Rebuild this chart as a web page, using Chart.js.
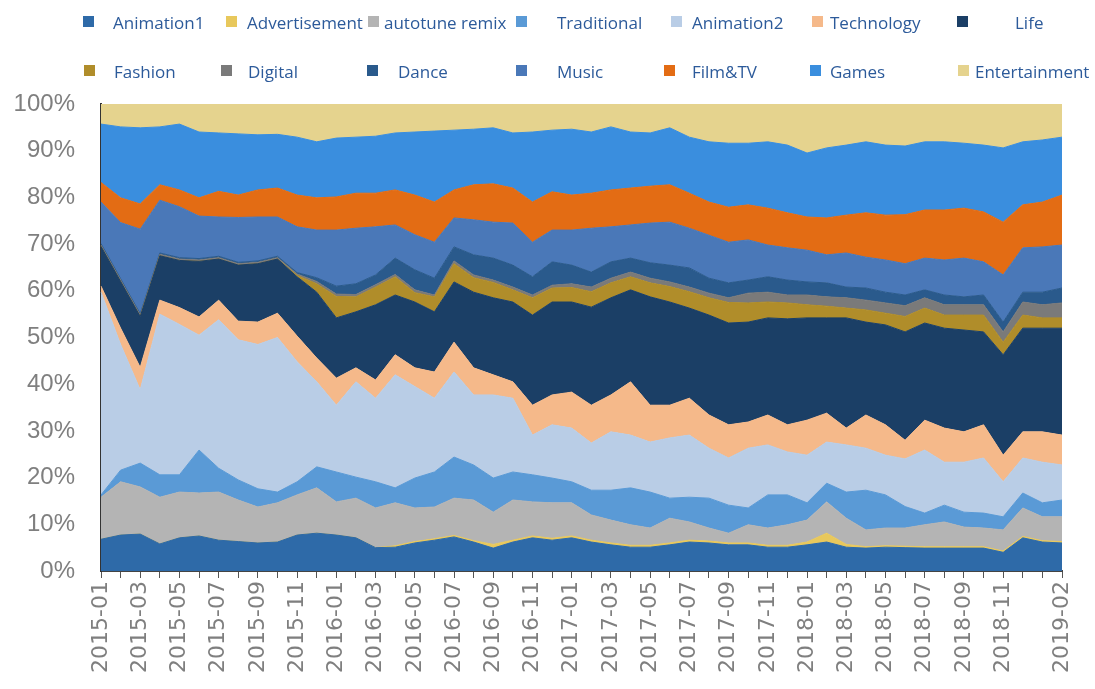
<!DOCTYPE html>
<html lang="en">
<head>
    <meta charset="UTF-8">
    <meta name="viewport" content="width=device-width, initial-scale=1.0">
    <title>Monthly Category Share</title>
    <script src="https://cdn.jsdelivr.net/npm/chart.js"></script>
    <style>
        body {
            margin: 0;
            background: #ffffff;
        }

        .chart-box {
            position: relative;
            width: 1095px;
            height: 689px;
        }

        /* legend sits over the top of the canvas */
        .legend {
            position: absolute;
            left: 0;
            top: 0;
            width: 1095px;
            height: 96px;
        }

        .legend-box {
            position: absolute;
            width: 11px;
            height: 11px;
        }

        .legend-text {
            position: absolute;
            font-family: "Open Sans", sans-serif;
            font-size: 17px;
            line-height: 22px;
            color: #2c5a9a;
            white-space: nowrap;
        }
    </style>
</head>
<body>
    <div class="chart-box">
        <canvas id="shareChart"></canvas>
        <div class="legend" id="legend"></div>
    </div>
    <script>
        // months on the x axis
        const months = [
            '2015-01', '2015-02', '2015-03', '2015-04', '2015-05', '2015-06', '2015-07', '2015-08', '2015-09', '2015-10', '2015-11', '2015-12',
            '2016-01', '2016-02', '2016-03', '2016-04', '2016-05', '2016-06', '2016-07', '2016-08', '2016-09', '2016-10', '2016-11', '2016-12',
            '2017-01', '2017-02', '2017-03', '2017-04', '2017-05', '2017-06', '2017-07', '2017-08', '2017-09', '2017-10', '2017-11', '2017-12',
            '2018-01', '2018-02', '2018-03', '2018-04', '2018-05', '2018-06', '2018-07', '2018-08', '2018-09', '2018-10', '2018-11', '2018-12',
            '2019-01', '2019-02'
        ];

        // only these months get a label
        const shownTicks = [
            '2015-01', '2015-03', '2015-05', '2015-07', '2015-09', '2015-11',
            '2016-01', '2016-03', '2016-05', '2016-07', '2016-09', '2016-11',
            '2017-01', '2017-03', '2017-05', '2017-07', '2017-09', '2017-11',
            '2018-01', '2018-03', '2018-05', '2018-07', '2018-09', '2018-11',
            '2019-02'
        ];

        const yTicks = [0, 10, 20, 30, 40, 50, 60, 70, 80, 90, 100];

        // share of each category (%), bottom of the stack first
        const animation1 = [6.8, 7.7, 7.9, 5.8, 7.1, 7.5, 6.6, 6.3, 6.0, 6.2, 7.7, 8.1, 7.7, 7.1, 5.0, 5.1, 6.0, 6.6, 7.3, 6.2, 4.9, 6.2, 7.1, 6.6, 7.1, 6.2, 5.6, 5.1, 5.1, 5.6, 6.2, 6.0, 5.6, 5.6, 5.1, 5.1, 5.6, 6.2, 5.1, 4.9, 5.1, 5.0, 4.9, 4.9, 4.9, 4.9, 4.0, 7.1, 6.2, 6.0];
        const advertisement = [0, 0, 0, 0, 0, 0, 0, 0, 0, 0, 0, 0, 0, 0, 0, 0.3, 0.3, 0.3, 0.3, 0.3, 0.8, 0.4, 0.4, 0.4, 0.4, 0.4, 0.4, 0.4, 0.4, 0.4, 0.4, 0.4, 0.4, 0.4, 0.4, 0.4, 0.6, 1.9, 0.6, 0.3, 0.3, 0.3, 0.3, 0.3, 0.3, 0.3, 0.3, 0.3, 0.3, 0.3];
        const autotuneRemix = [9.0, 11.4, 10.1, 10.0, 9.8, 9.2, 10.3, 8.9, 7.7, 8.4, 8.6, 9.7, 7.1, 8.5, 8.5, 9.2, 7.2, 6.8, 8.0, 8.7, 6.9, 8.6, 7.3, 7.6, 7.1, 5.4, 4.9, 4.4, 3.7, 5.3, 3.9, 2.8, 2.1, 3.9, 3.7, 4.4, 4.7, 6.7, 5.6, 3.6, 3.8, 3.9, 4.7, 5.3, 4.2, 4.0, 4.5, 6.1, 5.1, 5.3];
        const traditional = [0.5, 2.5, 5.1, 4.8, 3.7, 9.2, 5.1, 4.3, 3.9, 2.3, 2.8, 4.5, 6.4, 4.5, 5.6, 3.2, 6.4, 7.5, 8.8, 7.5, 7.3, 6.0, 5.8, 5.3, 4.5, 5.3, 6.4, 7.9, 7.7, 4.3, 5.3, 6.4, 6.0, 3.6, 7.1, 6.4, 3.7, 4.0, 5.6, 8.5, 7.1, 4.6, 2.5, 3.6, 3.2, 3.2, 2.8, 3.2, 3.0, 3.6];
        const animation2 = [43.4, 26.9, 15.7, 34.4, 32.2, 24.6, 31.8, 30.0, 30.9, 33.1, 25.7, 18.2, 14.3, 20.4, 17.9, 24.2, 19.6, 15.8, 18.2, 15.0, 17.8, 15.8, 8.5, 11.4, 11.5, 10.1, 12.5, 11.3, 10.7, 12.9, 13.3, 10.7, 10.1, 12.8, 10.7, 9.2, 10.2, 8.8, 10.1, 9.0, 8.5, 10.2, 13.5, 9.2, 10.7, 11.8, 7.5, 7.5, 8.7, 7.5];
        const technology = [1.3, 3.5, 4.8, 3.0, 3.6, 3.9, 4.2, 4.0, 4.8, 5.2, 5.5, 5.1, 5.8, 3.0, 3.9, 4.3, 4.0, 5.6, 6.4, 5.8, 4.3, 3.5, 6.4, 6.4, 7.7, 8.1, 7.9, 11.4, 7.9, 7.0, 7.9, 7.1, 7.1, 5.6, 6.4, 5.8, 7.5, 6.2, 3.6, 7.1, 6.5, 4.0, 6.4, 7.3, 6.5, 7.1, 5.7, 5.6, 6.5, 6.4];
        const life = [8.5, 10.0, 10.9, 9.5, 10.1, 11.9, 8.8, 12.0, 12.5, 11.6, 12.7, 14.1, 12.9, 12.0, 16.1, 12.8, 14.1, 12.9, 12.9, 16.2, 16.5, 17.1, 19.3, 19.9, 19.3, 21.0, 20.8, 19.7, 23.2, 22.1, 19.3, 21.4, 21.8, 21.4, 20.8, 22.7, 21.9, 20.4, 23.6, 19.9, 21.4, 23.2, 20.8, 21.4, 21.8, 19.9, 21.5, 22.2, 22.2, 22.9];
        const fashion = [0, 0, 0, 0, 0, 0, 0, 0, 0, 0, 0.3, 1.8, 4.6, 3.2, 3.8, 3.9, 2.0, 3.2, 3.9, 3.1, 3.3, 2.6, 3.7, 3.0, 3.1, 3.3, 3.2, 2.8, 3.0, 3.3, 3.5, 3.7, 4.4, 4.1, 3.4, 3.4, 2.8, 2.5, 2.1, 2.6, 2.5, 3.3, 3.2, 2.8, 3.2, 3.6, 2.7, 2.8, 2.2, 2.2];
        const digital = [0.3, 0.3, 0.3, 0.3, 0.3, 0.3, 0.3, 0.3, 0.3, 0.3, 0.3, 0.5, 0.5, 0.5, 0.5, 0.5, 0.6, 0.4, 0.6, 0.6, 0.5, 0.6, 0.6, 0.6, 0.8, 1.0, 1.0, 1.0, 1.0, 1.0, 1.0, 1.0, 1.0, 2.1, 2.1, 1.7, 2.1, 2.0, 2.2, 2.1, 2.2, 2.3, 2.2, 2.2, 2.2, 2.2, 2.2, 2.8, 2.8, 3.2];
        const dance = [0.3, 0.3, 0.3, 0.3, 0.3, 0.3, 0.3, 0.3, 0.3, 0.3, 0.3, 0.8, 1.7, 2.3, 2.1, 3.5, 4.3, 3.6, 3.0, 4.3, 4.7, 4.7, 3.9, 5.0, 4.0, 3.2, 3.5, 3.0, 3.3, 3.6, 4.1, 3.2, 3.2, 2.8, 3.3, 3.2, 2.8, 3.0, 2.3, 2.6, 2.3, 2.3, 1.7, 2.1, 1.7, 2.1, 2.1, 2.1, 2.7, 3.2];
        const music = [8.9, 12.0, 18.1, 11.3, 10.9, 9.1, 8.4, 9.6, 9.4, 8.4, 9.8, 10.2, 12.0, 11.9, 10.3, 7.1, 7.5, 7.7, 6.2, 7.5, 7.7, 9.0, 7.4, 6.8, 7.5, 9.4, 7.5, 7.1, 8.5, 9.2, 8.5, 9.2, 8.7, 8.6, 6.8, 6.9, 6.8, 6.0, 7.3, 6.6, 6.9, 6.7, 6.8, 7.5, 8.3, 7.1, 10.1, 9.5, 9.7, 9.2];
        const filmTV = [4.2, 5.3, 5.4, 3.3, 3.6, 3.9, 5.5, 4.8, 5.8, 6.2, 6.8, 6.9, 7.1, 7.5, 7.2, 7.5, 8.5, 8.6, 6.0, 7.5, 8.2, 7.5, 8.6, 8.2, 7.5, 7.5, 7.9, 7.9, 7.9, 8.0, 7.5, 7.1, 7.5, 7.5, 7.9, 7.5, 7.1, 7.9, 8.1, 9.5, 9.6, 10.5, 10.3, 10.7, 10.7, 10.7, 11.3, 9.2, 9.6, 10.7];
        const games = [12.5, 15.2, 16.3, 12.4, 14.1, 14.1, 12.5, 13.1, 11.8, 11.5, 12.4, 12.0, 12.6, 12.0, 12.2, 12.2, 13.5, 15.2, 12.8, 11.9, 12.0, 11.8, 15.0, 13.2, 14.1, 13.1, 13.5, 12.0, 11.4, 12.2, 12.0, 12.9, 13.7, 13.2, 14.2, 14.5, 13.7, 15.0, 15.0, 15.2, 15.0, 14.7, 14.6, 14.6, 13.9, 14.3, 15.9, 13.5, 13.3, 12.4];
        const entertainment = [4.3, 4.9, 5.1, 4.9, 4.3, 6.0, 6.2, 6.4, 6.6, 6.5, 7.1, 8.1, 7.3, 7.1, 6.9, 6.2, 6.0, 5.8, 5.6, 5.4, 5.1, 6.2, 6.0, 5.6, 5.4, 6.0, 4.9, 6.0, 6.2, 5.1, 7.1, 8.1, 8.4, 8.4, 8.1, 8.8, 10.5, 9.4, 8.8, 8.1, 8.8, 9.0, 8.1, 8.1, 8.4, 8.8, 9.4, 8.1, 7.7, 7.1];

        const seriesNames = ['Animation1', 'Advertisement', 'autotune remix', 'Traditional', 'Animation2', 'Technology', 'Life',
                             'Fashion', 'Digital', 'Dance', 'Music', 'Film&TV', 'Games', 'Entertainment'];
        const seriesValues = [animation1, advertisement, autotuneRemix, traditional, animation2, technology, life,
                              fashion, digital, dance, music, filmTV, games, entertainment];
        const seriesColors = ['#2e6aa8', '#e8c85c', '#b4b4b4', '#5a9ad6', '#b9cde6', '#f5b98a', '#1b3f66',
                              '#b08d2a', '#7a7a7a', '#2a5a8c', '#4a78b8', '#e36c14', '#3a8ede', '#e5d38e'];

        // legend layout (two rows of seven)
        const legendMarkX = [83, 226, 368, 516, 671, 812, 957, 84, 221, 367, 516, 664, 810, 958];
        const legendTextX = [113, 247, 384, 557, 692, 830, 1015, 114, 248, 398, 557, 692, 830, 975];
        const legendRowY = [22, 71];

        const legend = document.getElementById('legend');
        seriesNames.forEach((name, i) => {
            const rowY = legendRowY[Math.floor(i / 7)];
            const box = document.createElement('span');
            box.className = 'legend-box';
            box.style.left = legendMarkX[i] + 'px';
            box.style.top = (rowY - 6) + 'px';
            box.style.backgroundColor = seriesColors[i];
            const text = document.createElement('span');
            text.className = 'legend-text';
            text.style.left = legendTextX[i] + 'px';
            text.style.top = (rowY - 10) + 'px';
            text.textContent = name;
            legend.appendChild(box);
            legend.appendChild(text);
        });

        const ctx = document.getElementById('shareChart').getContext('2d');
        new Chart(ctx, {
            type: 'line',
            data: {
                labels: months,
                datasets: seriesNames.map((name, i) => ({
                    label: name,
                    data: seriesValues[i],
                    backgroundColor: seriesColors[i],
                    borderColor: seriesColors[i],
                    borderWidth: 1,
                    pointRadius: 0,
                    tension: 0,
                    fill: i === 0 ? 'origin' : '-1'
                }))
            },
            options: {
                responsive: true,
                maintainAspectRatio: false,
                animation: false,
                devicePixelRatio: 1,
                layout: {
                    padding: { top: 104, right: 33, bottom: 0, left: 0 }
                },
                plugins: {
                    legend: { display: false },
                    tooltip: { enabled: false }
                },
                scales: {
                    x: {
                        grid: {
                            display: true,
                            drawOnChartArea: false,
                            drawTicks: true,
                            tickLength: 7,
                            color: '#555555'
                        },
                        border: { display: true, color: '#444444', width: 2 },
                        ticks: {
                            autoSkip: false,
                            minRotation: 90,
                            maxRotation: 90,
                            padding: 3,
                            color: '#7f7f7f',
                            font: { family: 'DejaVu Sans', size: 22 },
                            callback: function (value, index) {
                                const m = months[index];
                                return shownTicks.includes(m) ? m : '';
                            }
                        },
                        afterFit: function (scale) {
                            scale.height = 118;
                        }
                    },
                    y: {
                        stacked: true,
                        min: 0,
                        max: 100,
                        grid: { display: false, drawTicks: false },
                        border: { display: true, color: '#333333', width: 2 },
                        afterBuildTicks: function (scale) {
                            scale.ticks = yTicks.map(v => ({ value: v }));
                        },
                        ticks: {
                            padding: 26,
                            color: '#7f7f7f',
                            font: { family: 'Liberation Sans', size: 24 },
                            callback: function (value) {
                                return value + '%';
                            }
                        },
                        afterFit: function (scale) {
                            scale.width = 101;
                        }
                    }
                }
            }
        });
    </script>
</body>
</html>
